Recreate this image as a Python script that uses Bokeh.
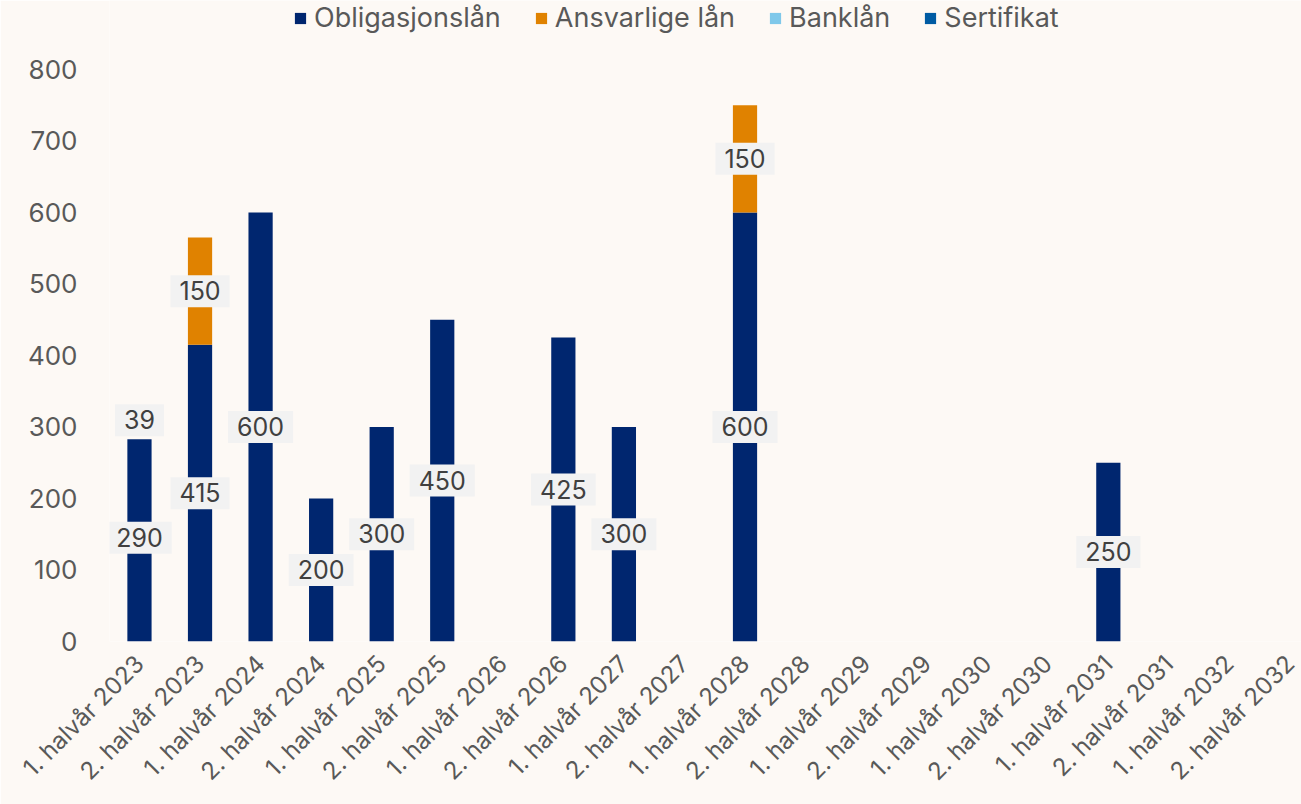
import math
from bokeh.plotting import figure
from bokeh.models import ColumnDataSource, Range1d, FixedTicker, Legend, LegendItem
from bokeh.core.properties import value
from bokeh.embed import file_html
from bokeh.resources import INLINE

categories = ["1. halvår 2023", "2. halvår 2023", "1. halvår 2024", "2. halvår 2024",
              "1. halvår 2025", "2. halvår 2025", "1. halvår 2026", "2. halvår 2026",
              "1. halvår 2027", "2. halvår 2027", "1. halvår 2028", "2. halvår 2028",
              "1. halvår 2029", "2. halvår 2029", "1. halvår 2030", "2. halvår 2030",
              "1. halvår 2031", "2. halvår 2031", "1. halvår 2032", "2. halvår 2032"]
# bar heights as drawn
obligasjonslan = [283, 415, 600, 200, 300, 450, 0, 425, 300, 0, 600, 0, 0, 0, 0, 0, 250, 0, 0, 0]
ansvarlige_lan = [0, 150, 0, 0, 0, 0, 0, 0, 0, 0, 150, 0, 0, 0, 0, 0, 0, 0, 0, 0]
banklan = [0] * 20
sertifikat = [0] * 20
# data labels as printed
obl_labels = [290, 415, 600, 200, 300, 450, 0, 425, 300, 0, 600, 0, 0, 0, 0, 0, 250, 0, 0, 0]
ans_labels = [0, 150, 0, 0, 0, 0, 0, 0, 0, 0, 150, 0, 0, 0, 0, 0, 0, 0, 0, 0]
sert_labels = [39, 0, 0, 0, 0, 0, 0, 0, 0, 0, 0, 0, 0, 0, 0, 0, 0, 0, 0, 0]
yticks = [0, 100, 200, 300, 400, 500, 600, 700, 800]

FONT = "Inter"
BG = "#FDF9F5"
TXT = "#595959"
colors = ["#00266F", "#E08200", "#7FC8EA", "#005BA3"]
names = ["Obligasjonslån", "Ansvarlige lån", "Banklån", "Sertifikat"]

xs = list(range(len(categories)))
src = ColumnDataSource(dict(x=xs, obl=obligasjonslan, ans=ansvarlige_lan, bank=banklan, sert=sertifikat))

p = figure(width=1301, height=804, output_backend="svg", toolbar_location=None,
           x_range=Range1d(-0.495, 19.19), y_range=Range1d(0, 896.5),
           min_border_left=109, min_border_right=0, min_border_top=0, min_border_bottom=163,
           background_fill_color=BG, border_fill_color=BG, outline_line_color=None)

rs = p.vbar_stack(["obl", "ans", "bank", "sert"], x="x", width=0.4, color=colors, source=src, line_width=0)

p.xgrid.visible = False
p.ygrid.visible = False

p.yaxis.ticker = FixedTicker(ticks=yticks)
p.yaxis.axis_line_color = None
p.yaxis.major_tick_line_color = None
p.yaxis.minor_tick_line_color = None
p.yaxis.major_label_text_font = FONT
p.yaxis.major_label_text_font_size = "26px"
p.yaxis.major_label_text_color = TXT
p.yaxis.major_label_standoff = 26

p.xaxis.ticker = FixedTicker(ticks=xs)
p.xaxis.major_label_overrides = {i: c for i, c in enumerate(categories)}
p.xaxis.major_label_orientation = math.pi / 4
p.xaxis.axis_line_color = None
p.xaxis.major_tick_line_color = None
p.xaxis.minor_tick_line_color = None
p.xaxis.major_label_text_font = FONT
p.xaxis.major_label_text_font_size = "24px"
p.xaxis.major_label_text_color = TXT
p.xaxis.major_label_standoff = 12

# data labels
lx, ly, lt = [], [], []
for i in xs:
    if obl_labels[i]:
        lx.append(i); ly.append(obl_labels[i] / 2); lt.append(str(obl_labels[i]))
    if ans_labels[i]:
        lx.append(i); ly.append(obl_labels[i] + ans_labels[i] / 2); lt.append(str(ans_labels[i]))
    if sert_labels[i]:
        lx.append(i); ly.append(obl_labels[i] + ans_labels[i] + sert_labels[i] / 2); lt.append(str(sert_labels[i]))
lsrc = ColumnDataSource(dict(x=lx, y=ly, t=lt))
p.text(x="x", y="y", text="t", source=lsrc, text_align="center", text_baseline="middle",
       text_font=value(FONT), text_font_size="25px", text_color="#404040",
       background_fill_color="#F2F2F2", padding=[9, 9, 6, 7])

legend = Legend(items=[LegendItem(label=n, renderers=[r]) for n, r in zip(names, rs)],
                orientation="horizontal", location=(184, 607),
                label_text_font=FONT, label_text_font_size="27px", label_text_color=TXT,
                glyph_width=14, glyph_height=14, label_standoff=7, spacing=33,
                padding=0, margin=0, border_line_color=None, background_fill_alpha=0)
p.add_layout(legend, "center")

open("out.html", "w").write(file_html(p, INLINE))
